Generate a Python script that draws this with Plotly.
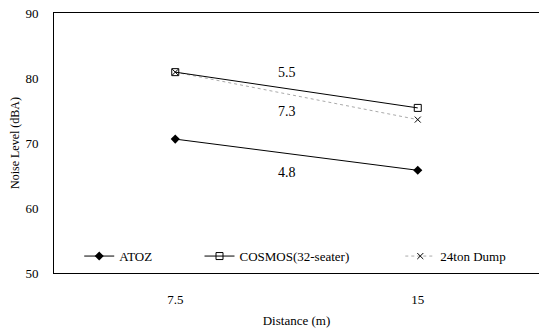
import plotly.graph_objects as go

distance = ["7.5", "15"]
atoz = [70.6, 65.8]
cosmos = [80.9, 75.4]
dump = [80.9, 73.6]
diff_labels = ["5.5", "7.3", "4.8"]
diff_pos_y = [80.9, 74.8, 65.5]

FONT = "Liberation Serif, Times New Roman, serif"

fig = go.Figure()
fig.add_trace(go.Scatter(
    x=distance, y=atoz, name="ATOZ", mode="lines+markers",
    line=dict(color="black", width=1),
    marker=dict(symbol="diamond", size=7, color="black"),
    legend="legend", showlegend=True))
fig.add_trace(go.Scatter(
    x=distance, y=dump, name="24ton Dump", mode="lines+markers",
    line=dict(color="#aaaaaa", width=1, dash="dot"),
    marker=dict(symbol="x-thin", size=6, color="black", line=dict(width=1, color="black")),
    legend="legend3", showlegend=True))
fig.add_trace(go.Scatter(
    x=distance, y=cosmos, name="COSMOS(32-seater)", mode="lines+markers",
    line=dict(color="black", width=1),
    marker=dict(symbol="square-open", size=7, color="black", line=dict(width=1)),
    legend="legend2", showlegend=True))

for lab, yy in zip(diff_labels, diff_pos_y):
    fig.add_annotation(x=0.48, xref="paper", y=yy, yref="y", text=lab,
                       showarrow=False, font=dict(family=FONT, size=14, color="black"))

leg_common = dict(orientation="h", yanchor="middle", xanchor="left",
                  bgcolor="rgba(0,0,0,0)", font=dict(family=FONT, size=13, color="black"),
                  itemwidth=30)
fig.update_layout(
    width=539, height=329,
    showlegend=True,
    margin=dict(l=54, r=0, t=13, b=56),
    paper_bgcolor="white", plot_bgcolor="white",
    font=dict(family=FONT, size=13, color="black"),
    legend=dict(x=0.052, y=0.065, **leg_common),
    legend2=dict(x=0.30, y=0.065, **leg_common),
    legend3=dict(x=0.714, y=0.065, **leg_common),
    xaxis=dict(type="category", range=[-0.5, 1.5], showgrid=False, zeroline=False,
               showline=True, linecolor="black", linewidth=1, mirror=True,
               ticks="", ticklabelstandoff=14,
               tickfont=dict(family=FONT, size=13),
               title=dict(text="Distance (m)", font=dict(family=FONT, size=13), standoff=10)),
    yaxis=dict(range=[50, 90], dtick=10, showgrid=False, zeroline=False,
               showline=True, linecolor="black", linewidth=1,
               ticks="", ticklabelstandoff=12,
               tickfont=dict(family=FONT, size=13),
               title=dict(text="Noise Level (dBA)", font=dict(family=FONT, size=12), standoff=3)),
)

fig.write_html("out.html")
